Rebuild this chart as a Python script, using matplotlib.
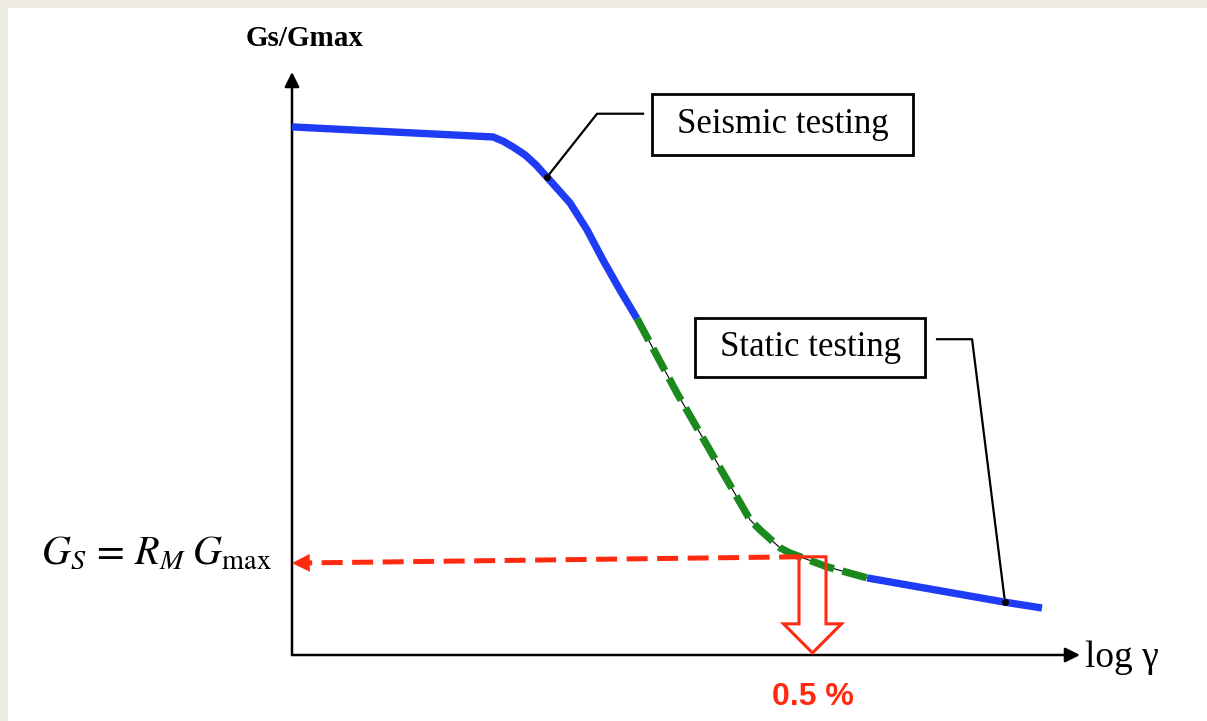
import numpy as np
import matplotlib.pyplot as plt
from matplotlib.patches import Rectangle, FancyArrow

# Gs/Gmax degradation curve (x = log gamma, schematic)
seismic_x = [-6.0, -4.571, -4.536, -4.5, -4.429, -4.344, -4.266, -4.188, -4.024, -3.903,
             -3.790, -3.669, -3.548]
seismic_y = [1.0, 0.981, 0.977, 0.973, 0.962, 0.947, 0.928, 0.905, 0.856, 0.805,
             0.748, 0.691, 0.637]
transition_x = [-3.548, -3.264, -2.979, -2.745, -2.674, -2.532, -2.461, -2.389, -2.198, -1.913]
transition_y = [0.637, 0.496, 0.364, 0.256, 0.237, 0.203, 0.193, 0.186, 0.167, 0.146]
static_x = [-1.913, -0.933, -0.670]
static_y = [0.146, 0.100, 0.089]

# reference level Gs = RM * Gmax and the 0.5 % strain
rm_x = [-6.0, -2.389]
rm_y = [0.174, 0.186]
strain_ref = np.log10(0.005)

# points where the two call-outs touch the curve
seismic_pt = (-4.188, 0.905)
static_pt = (-0.933, 0.100)

blue = '#1f3cf5'
green = '#1a8a1f'
red = '#ff2a10'

fig = plt.figure(figsize=(12.07, 7.21), dpi=100, facecolor='#eeebe0')
fig.add_artist(Rectangle((8 / 1207, 0), 1, (721 - 8) / 721, transform=fig.transFigure,
                         facecolor='white', edgecolor='none', zorder=-1))

ax = fig.add_axes([292 / 1207, 66 / 721, 788 / 1207, 583 / 721])
ax.set_xlim(-6.0, -0.4)
ax.set_ylim(0, 1.104)
ax.patch.set_visible(False)
for s in ax.spines.values():
    s.set_visible(False)
ax.set_xticks([])
ax.set_yticks([])

# axes with arrow heads
arrow_kw = dict(arrowstyle='-|>', lw=1.8, color='black', mutation_scale=22, shrinkA=0, shrinkB=0)
ax.annotate('', xy=(-6.0, 1.104), xytext=(-6.0, 0), arrowprops=arrow_kw, annotation_clip=False)
ax.annotate('', xy=(-0.4, 0), xytext=(-6.0, 0), arrowprops=arrow_kw, annotation_clip=False)

# curve
ax.plot(seismic_x, seismic_y, color=blue, lw=5.3, solid_capstyle='butt', solid_joinstyle='round', zorder=3)
ax.plot(transition_x, transition_y, color='black', lw=0.8, zorder=2)
ax.plot(transition_x, transition_y, color=green, lw=5.3, dashes=(3.4, 1.2),
        dash_capstyle='butt', zorder=3)
ax.plot(static_x, static_y, color=blue, lw=5.3, solid_capstyle='butt', solid_joinstyle='round', zorder=3)

# red dashed reference line with arrow head at the axis
ax.plot(rm_x[1:] + [rm_x[0] + 0.12], rm_y[1:] + [rm_y[0] + 0.0004], color=red, lw=3.6,
        dashes=(4.2, 1.9), dash_capstyle='butt', zorder=4)
ax.annotate('', xy=(rm_x[0], rm_y[0]), xytext=(rm_x[0] + 0.14, rm_y[0] + 0.0005),
            arrowprops=dict(arrowstyle='-|>', lw=0, color=red, mutation_scale=32,
                            shrinkA=0, shrinkB=0), zorder=4)

# hollow arrow down to 0.5 %
ax.add_patch(FancyArrow(strain_ref, rm_y[1], 0, -(rm_y[1] - 0.004), width=0.192,
                        head_width=0.412, head_length=0.055, length_includes_head=True,
                        facecolor='none', edgecolor=red, lw=2.2, joinstyle='miter', zorder=5))

# call-outs
ax.plot(*seismic_pt, 'o', color='black', ms=4, zorder=4)
ax.plot([seismic_pt[0], -3.832, -3.505], [seismic_pt[1], 1.025, 1.025], color='black', lw=1.6, zorder=2)
ax.add_patch(Rectangle((-3.441, 0.947), 1.855, 0.1155, facecolor='white', edgecolor='black',
                       lw=2, clip_on=False, zorder=4))
ax.text(-2.513, 1.005, 'Seismic testing', ha='center', va='center', fontsize=25,
        family='Liberation Serif', zorder=5)

ax.plot(*static_pt, 'o', color='black', ms=4, zorder=4)
ax.plot([-1.416, -1.167, static_pt[0]], [0.598, 0.598, static_pt[1]], color='black', lw=1.6, zorder=2)
ax.add_patch(Rectangle((-3.136, 0.527), 1.635, 0.111, facecolor='white', edgecolor='black',
                       lw=2, clip_on=False, zorder=4))
ax.text(-2.318, 0.583, 'Static testing', ha='center', va='center', fontsize=25,
        family='Liberation Serif', zorder=5)

# labels
ax.text(-5.908, 1.168, 'Gs/Gmax', ha='center', va='center', fontsize=21, fontweight='bold',
        family='Liberation Serif')
ax.text(-0.364, -0.023, 'log γ', ha='left', va='baseline', fontsize=27, family='Liberation Serif')
ax.text(strain_ref, -0.095, '0.5 %', ha='center', va='baseline', fontsize=23, fontweight='bold',
        color=red, family='Liberation Sans')
ax.text(-6.142, rm_y[0], r'$G_S\,=\,R_M\;G_{\mathrm{max}}$', ha='right', va='baseline',
        fontsize=29, math_fontfamily='stix')

fig.savefig('out.png', dpi=100, facecolor=fig.get_facecolor())
